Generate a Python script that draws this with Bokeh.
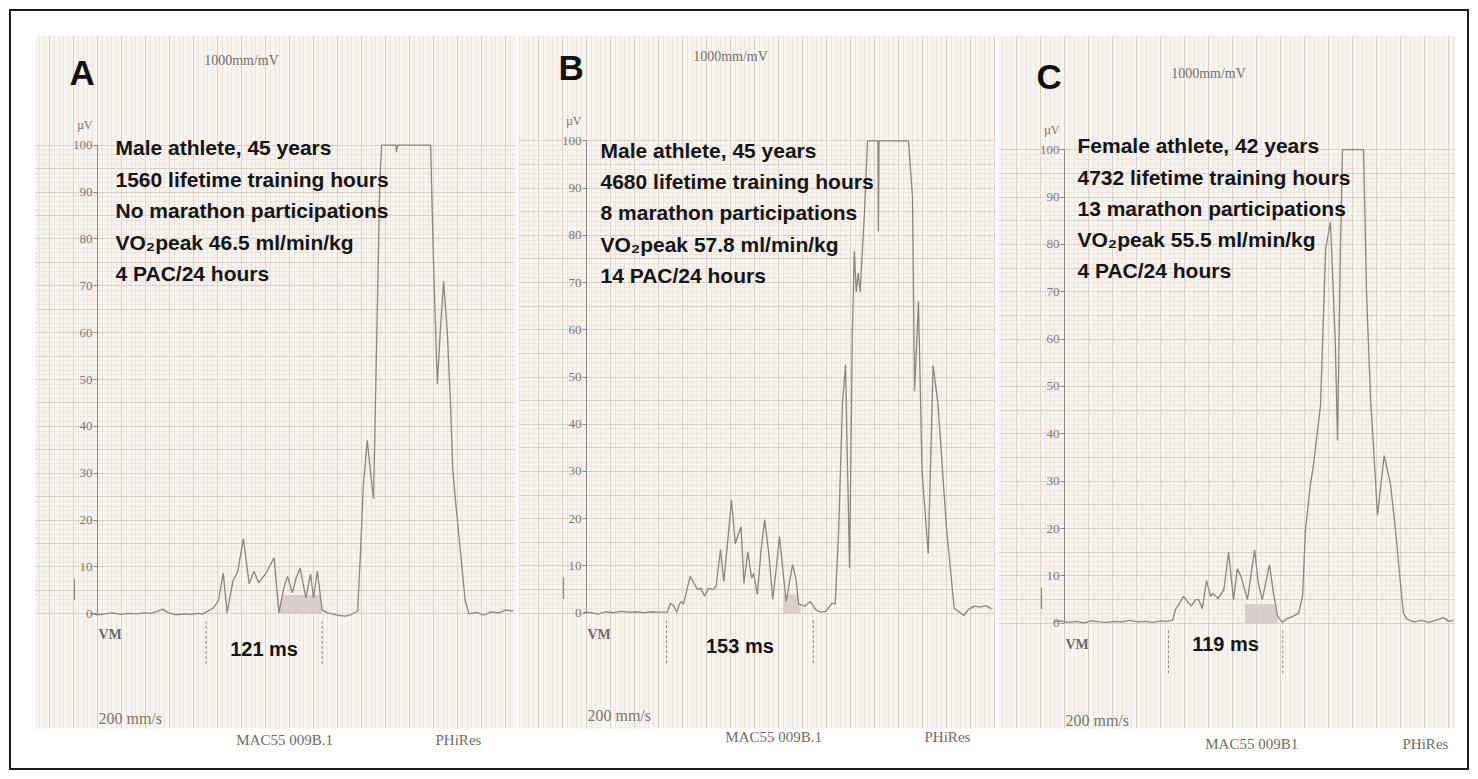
import numpy as np
from bokeh.plotting import figure
from bokeh.layouts import row
from bokeh.models import (Range1d, LinearAxis, FixedTicker, SingleIntervalTicker,
                          Label, ColumnDataSource, Grid)
from bokeh.core.properties import value
from bokeh.embed import file_html
from bokeh.resources import INLINE

# ---------------- data ----------------
# Panel A: time (ms), filtered QRS magnitude (microvolts)
a_t = [-7, 0, 8, 16, 24, 32, 40, 48, 56, 62, 68, 74, 82, 90, 98, 104, 110,
       121, 126, 131, 135, 141, 146, 152, 158, 163, 168, 175, 184, 189, 194, 198,
       203, 207, 211, 217, 222, 225, 229, 234, 240, 250, 258, 264, 271, 274, 277,
       281, 284, 287.5, 291, 294, 296, 311, 311.5, 312.5, 347, 350, 354, 357,
       360.5, 364.5, 367.7, 370, 373, 378, 383, 387, 395, 402, 410, 418, 425, 433]
a_v = [0.1, -0.2, 0.0, 0.2, -0.1, 0.1, 0.0, 0.2, 0.1, 0.5, 1.0, 0.2, -0.2, 0.0, -0.1, 0.1, 0.0,
       1.3, 2.8, 8.7, 0.2, 7.0, 9.0, 16.0, 6.4, 9.1, 6.6, 8.5, 12.0, 0.2, 5.5, 8.0,
       4.5, 7.7, 9.8, 3.4, 8.5, 3.4, 9.1, 0.8, 0.2, -0.3, -0.5, -0.2, 0.6, 13.4, 27.7,
       37.0, 31.0, 24.5, 60.0, 92.0, 100, 100, 98.5, 100, 100, 75.0, 49.0, 60.0,
       71.0, 59.6, 45.0, 31.0, 24.0, 13.4, 2.8, 0.0, 0.3, -0.3, 0.4, 0.2, 0.8, 0.6]

# Panel B
b_t = [-3, 5, 12, 20, 28, 36, 44, 52, 60, 68, 76, 84,
       87.5, 91, 94, 98, 101, 108, 115.6, 119, 123, 127, 132, 135, 139.6, 143, 147,
       151, 155, 158, 161, 164, 168, 172, 174, 178, 182, 185.6, 190, 194, 197, 201,
       205, 208, 214.6, 218, 221, 228, 233, 238.5, 244, 249, 256, 259, 262.5, 266.7,
       269.8, 274, 277, 279, 281, 283, 285, 289.6, 292.7, 303.6, 304, 304.7, 335.4,
       339.6, 341.7, 345.8, 349.5, 356, 361, 366, 375, 383, 388, 393, 398, 404, 410,
       416, 422]
b_v = [0.2, 0.1, -0.2, 0.3, 0.1, 0.4, 0.2, 0.3, 0.1, 0.3, 0.2, 0.2,
       2.1, 1.5, 0.2, 2.5, 1.9, 7.8, 5.0, 5.3, 3.6, 5.3, 5.0, 5.7, 13.5, 6.7, 15.0,
       24.0, 14.7, 16.6, 18.3, 6.3, 13.0, 7.4, 8.4, 4.0, 13.7, 19.8, 12.4, 2.9, 8.2, 16.2,
       8.2, 2.5, 10.3, 7.4, 1.9, 1.5, 2.5, 0.8, 0.2, 0.4, 2.1, 1.9, 16.6, 44.6,
       52.6, 9.5, 60.0, 76.6, 68.0, 72.0, 68.0, 85.0, 100, 100, 80.8, 100, 100,
       88.0, 47.0, 66.0, 30.0, 12.6, 52.4, 44.6, 18.0, 1.0, 0.3, -0.5, 0.8, 1.5, 1.3,
       1.6, 0.9]

# Panel C
c_t = [-11, -4, 4, 12, 20, 28, 36, 44, 52, 60, 68, 76, 84, 92, 100, 106, 112.5,
       115.6, 119, 124, 128, 132, 136.5, 139.6, 143.5, 148, 152, 155, 160, 166, 171,
       176, 180, 184, 190.6, 198, 202, 206, 213.5, 217.7, 222, 227, 232, 238.5, 243.8,
       248, 251, 256, 259.4, 266.7, 272, 277, 282, 284.4, 287.5, 289.6, 311.5, 314.6,
       318.75, 322, 326, 333, 339.6, 344.8, 350, 353, 357, 364, 372, 380, 388, 395,
       400, 405]
c_v = [0.3, 0.5, 0.2, 0.4, 0.1, 0.5, 0.3, 0.2, 0.4, 0.3, 0.6, 0.3, 0.4, 0.2, 0.5, 0.4, 0.6,
       2.9, 4.0, 5.7, 4.6, 3.6, 5.0, 5.0, 3.1, 9.0, 5.7, 6.3, 5.2, 7.1, 15.0,
       5.0, 11.5, 9.8, 5.0, 15.5, 8.4, 5.0, 12.4, 6.3, 1.5, 0.2, 1.0, 1.5, 2.1,
       5.7, 19.7, 29.0, 33.5, 46.0, 79.0, 84.7, 60.0, 38.6, 80.0, 100, 100, 70.0,
       47.6, 37.0, 22.8, 35.4, 29.4, 19.7, 8.4, 2.1, 0.8, 0.3, 0.6, 0.2, 0.7, 1.2,
       0.4, 0.6]

# QRS onset (ms) and filtered QRS duration (ms)
qrs_onset = [113, 83.3, 108.3]
qrs_duration = [121, 153, 119]
# low-amplitude terminal window shaded (ms)
shade_start = [190, 205, 188]
shade_end = [234, 223, 222]
shade_cap = 4.0

panel_letters = ["A", "B", "C"]
info_a = ["Male athlete, 45 years", "1560 lifetime training hours",
          "No marathon participations", "VO\u2082peak 46.5 ml/min/kg", "4 PAC/24 hours"]
info_b = ["Male athlete, 45 years", "4680 lifetime training hours",
          "8 marathon participations", "VO\u2082peak 57.8 ml/min/kg", "14 PAC/24 hours"]
info_c = ["Female athlete, 42 years", "4732 lifetime training hours",
          "13 marathon participations", "VO\u2082peak 55.5 ml/min/kg", "4 PAC/24 hours"]

y_ticks = [0, 10, 20, 30, 40, 50, 60, 70, 80, 90, 100]
footer_ticks = [195, 376]
footer_a = ["MAC55 009B.1", "PHiRes"]
footer_b = ["MAC55 009B.1", "PHiRes"]
footer_c = ["MAC55 009B1", "PHiRes"]
calib_t = -24
calib_v = [3, 7.5]

# ---------------- layout / style ----------------
PAPER = "#f7f4ef"
MINOR = "#ede6df"
MAJOR = "#d9d0c8"
TRACE = "#8b847f"
SERIF = "Liberation Serif"
SANS = "Liberation Sans"
SX = 0.96  # px per ms

panels = [
    dict(t=a_t, v=a_v, info=info_a, footer=footer_a, slot=(0, 517), frame=(35, 515),
         top=33, bottom=728, axis_x=97, zero_y=613, sy=4.70, info_t=18.75, info_top=99.4,
         ms_v=-7.4, foot_standoff=3, scale_v=-22.3, mm_v=118.0),
    dict(t=b_t, v=b_v, info=info_b, footer=footer_b, slot=(517, 996), frame=(518, 995),
         top=31, bottom=728, axis_x=586, zero_y=612, sy=4.75, info_t=14.6, info_top=98.0,
         ms_v=-6.9, foot_standoff=0, scale_v=-21.7, mm_v=117.8),
    dict(t=c_t, v=c_v, info=info_c, footer=footer_c, slot=(996, 1478), frame=(998, 1455),
         top=35, bottom=733, axis_x=1064, zero_y=627, sy=4.77, info_t=13.5, info_top=100.8,
         ms_v=-4.4, foot_standoff=7, scale_v=-20.6, mm_v=116.0),
]

H = 779
LB = 44
figs = []
for i, P in enumerate(panels):
    fl, fr = P["frame"]
    s0, s1 = P["slot"]
    x0 = (fl - P["axis_x"]) / SX
    x1 = (fr - P["axis_x"]) / SX
    y1 = (P["zero_y"] - P["top"]) / P["sy"]
    y0 = (P["zero_y"] - P["bottom"]) / P["sy"]
    width = LB + (fr - fl) + (s1 - fr)
    p = figure(width=width, height=H, x_range=Range1d(x0, x1), y_range=Range1d(y0, y1),
               x_axis_type=None, y_axis_type=None, toolbar_location=None,
               output_backend="svg", min_border_left=LB, min_border_right=s1 - fr,
               min_border_top=P["top"], min_border_bottom=H - P["bottom"],
               background_fill_color=PAPER, border_fill_alpha=0, outline_line_color=None)
    p.margin = (0, 0, 0, (fl - LB) - s0)

    # ECG paper grid: 1 mm = 5 ms (200 mm/s), 1 mm = 1 uV (1000 mm/mV)
    p.add_layout(Grid(dimension=0, ticker=SingleIntervalTicker(interval=25, num_minor_ticks=5),
                      grid_line_color=MAJOR, grid_line_width=1,
                      minor_grid_line_color=MINOR, minor_grid_line_width=1))
    p.add_layout(Grid(dimension=1, ticker=SingleIntervalTicker(interval=5, num_minor_ticks=5),
                      grid_line_color=MAJOR, grid_line_width=1,
                      minor_grid_line_color=MINOR, minor_grid_line_width=1))

    # y axis (uV) drawn at t = 0
    yax = LinearAxis(ticker=FixedTicker(ticks=y_ticks), bounds=(min(y_ticks), max(y_ticks)),
                     fixed_location=0, axis_line_color="#8c8782", axis_line_width=1,
                     major_tick_line_color="#8c8782", major_tick_out=4, major_tick_in=0,
                     minor_tick_line_color=None, major_label_standoff=1,
                     major_label_text_font=SERIF, major_label_text_font_size="13px",
                     major_label_text_color="#7f7a75")
    p.add_layout(yax, "left")

    # footer texts as labelled ticks below the paper
    foot = LinearAxis(ticker=FixedTicker(ticks=footer_ticks),
                      major_label_overrides={footer_ticks[k]: P["footer"][k] for k in range(2)},
                      axis_line_color=None, major_tick_line_color=None, minor_tick_line_color=None,
                      major_tick_out=0, major_tick_in=0, major_label_standoff=P["foot_standoff"],
                      major_label_text_font=SERIF, major_label_text_font_size="15px",
                      major_label_text_color="#6f6a66")
    p.add_layout(foot, "below")

    # calibration mark
    p.segment(x0=[calib_t], y0=[calib_v[0]], x1=[calib_t], y1=[calib_v[1]],
              line_color="#8c8782", line_width=1.2)

    # shaded terminal low-amplitude area
    tt = np.linspace(shade_start[i], shade_end[i], 60)
    vv = np.interp(tt, P["t"], P["v"])
    p.varea(x=tt, y1=np.zeros_like(tt), y2=np.minimum(np.maximum(vv, 0), shade_cap),
            fill_color="#d2cbc6", fill_alpha=0.9)

    # trace
    p.line(P["t"], P["v"], line_color=TRACE, line_width=1.3)

    # QRS onset / offset dashed markers
    on = qrs_onset[i]
    off = qrs_onset[i] + qrs_duration[i]
    p.segment(x0=[on, off], y0=[-1.5, -1.5], x1=[on, off], y1=[-11, -11],
              line_color="#8c8782", line_width=1, line_dash="3 2")
    p.add_layout(Label(x=(on + off) / 2, y=P["ms_v"], text=f"{qrs_duration[i]} ms",
                       text_align="center", text_baseline="middle", text_font=SANS,
                       text_font_style="bold", text_font_size="20px", text_color="#151515"))

    # info block
    line_step = 31.5 / P["sy"]
    src = ColumnDataSource(dict(x=[P["info_t"]] * len(P["info"]),
                                y=[P["info_top"] - k * line_step for k in range(len(P["info"]))],
                                txt=P["info"]))
    p.text(x="x", y="y", text="txt", source=src, text_font=value(SANS), text_font_style="bold",
           text_font_size="21px", text_color="#151515", text_baseline="middle", text_align="left")

    # panel letter and recorder annotations
    p.add_layout(Label(x=-16, y=115.5, text=panel_letters[i], text_align="center",
                       text_baseline="middle", text_font=SANS, text_font_style="bold",
                       text_font_size="35px", text_color="#111111"))
    p.add_layout(Label(x=150, y=P["mm_v"], text="1000mm/mV", text_align="center",
                       text_baseline="middle", text_font=SERIF, text_font_size="14px",
                       text_color="#736e6a"))
    p.add_layout(Label(x=0, y=max(y_ticks), x_offset=-5, y_offset=20, text="\u00b5V",
                       text_align="right", text_baseline="middle", text_font=SERIF,
                       text_font_size="12px", text_color="#77726e"))
    p.add_layout(Label(x=0, y=0, x_offset=1, y_offset=-21, text="VM", text_align="left",
                       text_baseline="middle", text_font=SERIF, text_font_style="bold",
                       text_font_size="14px", text_color="#6c6864"))
    p.add_layout(Label(x=1, y=P["scale_v"], text="200  mm/s", text_align="left",
                       text_baseline="middle", text_font=SERIF, text_font_size="16px",
                       text_color="#7a746f"))
    figs.append(p)

layout = row(*figs, styles={"outline": "2px solid #1b1b1b", "outline-offset": "-11px"})

open("out.html", "w").write(file_html(layout, INLINE))
